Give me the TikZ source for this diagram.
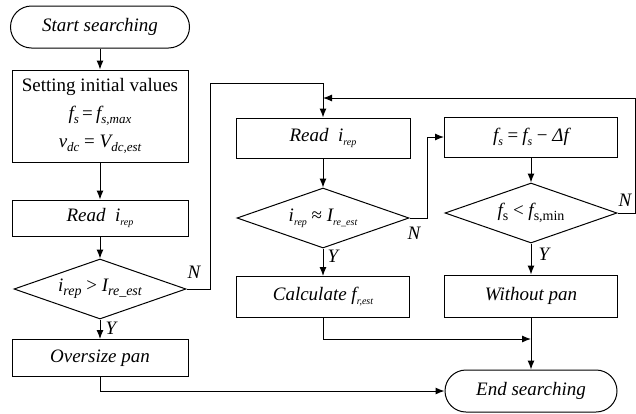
\documentclass[tikz,border=0pt]{standalone}
\usepackage{fontspec}
\setmainfont{Liberation Serif}
\usetikzlibrary{shapes.geometric,arrows.meta}

% lowered subscript text of a given size
\newcommand\lo[2][12]{\raisebox{-0.45ex}{\fontsize{#1}{#1}\selectfont #2}}

\begin{document}
\begin{tikzpicture}[x=1pt,y=-1pt,
  every node/.style={font=\fontsize{19}{22}\selectfont\itshape, inner sep=0pt},
  box/.style={draw, line width=1pt, rectangle, minimum width=176pt},
  term/.style={draw, line width=1pt, rectangle, rounded corners=21pt, minimum height=42pt},
  dia/.style={draw, line width=1pt, diamond, aspect=2.87, inner sep=0pt,
              minimum width=172pt, minimum height=60pt},
  arr/.style={line width=1pt, -{Latex[length=9pt,width=7pt]}},
  lnk/.style={line width=1pt}]
\useasboundingbox (0,0) rectangle (636,413);

% left column
\node[term, minimum width=179pt] (start) at (100,27) {Start searching};
\node[box, minimum height=92pt, align=center, font=\fontsize{19}{28}\selectfont] (init) at (100,116)
  {Setting initial values\\
   \textit{f\lo[13]{s}}\,=\,\textit{f\lo[13]{s,max}}\\
   \textit{v\lo[13]{dc}} = \textit{V\lo[13]{dc,est}}};
\node[box, minimum height=36pt] (read1) at (100,218) {Read\ \ i\lo[10]{rep}};
\node[dia] (d1) at (100,289) {i\lo[14]{rep} \upshape{>} \itshape I\lo[14]{re\_est}};
\node[box, minimum height=37pt] (over) at (100,358) {Oversize pan};

% middle column
\node[box, minimum width=174pt, minimum height=40pt] (read2) at (323,138) {Read\ \ i\lo[10]{rep}};
\node[dia] (d2) at (323,218) {i\lo[10]{rep} \upshape{≈} \itshape I\lo[10]{re\_est}};
\node[box, minimum width=173pt, minimum height=41pt] (calc) at (323,297) {Calculate\ f\lo[10]{r,est}};

% right column
\node[box, minimum width=173pt, minimum height=40pt] (fs) at (531,137) {f\lo[12]{s}\,=\,f\lo[12]{s} \upshape{−} \itshape Δf};
\node[dia] (d3) at (531,213) {f\lo[14]{\upshape s} \upshape{<} \itshape f\lo[14]{\upshape s,min}};
\node[box, minimum width=173pt, minimum height=42pt] (wo) at (531,296) {Without pan};
\node[term, minimum width=172pt] (end) at (531,391) {End searching};

% branch labels
\node (n1) at (194,272) {N};
\node (y1) at (111,328) {Y};
\node (n2) at (414,233) {N};
\node (y2) at (333,256) {Y};
\node (n3) at (625,200) {N};
\node (y3) at (544,254) {Y};

% straight flow
\draw[arr] (start) -- (init);
\draw[arr] (init) -- (read1);
\draw[arr] (read1) -- (d1);
\draw[arr] (d1) -- (over);
\draw[arr] (read2) -- (d2);
\draw[arr] (d2) -- (calc);
\draw[arr] (fs) -- (d3);
\draw[arr] (d3) -- (wo);
\draw[arr] (wo) -- (end);

% loops and joins
\coordinate (ja) at (210,83);
\coordinate (jb) at (635,98);
\coordinate (jc) at (427,218);
\coordinate (jd) at (531,339);
\draw[arr] (d1.east) -| (ja) -| (read2.north);
\draw[arr] (d3.east) -| (jb) -- (jb -| read2.north);
\draw[arr] (d2.east) -- (jc) |- (fs.west);
\draw[arr] (calc.south) |- (jd);
\draw[arr] (over.south) |- (end.west);
\end{tikzpicture}
\end{document}
